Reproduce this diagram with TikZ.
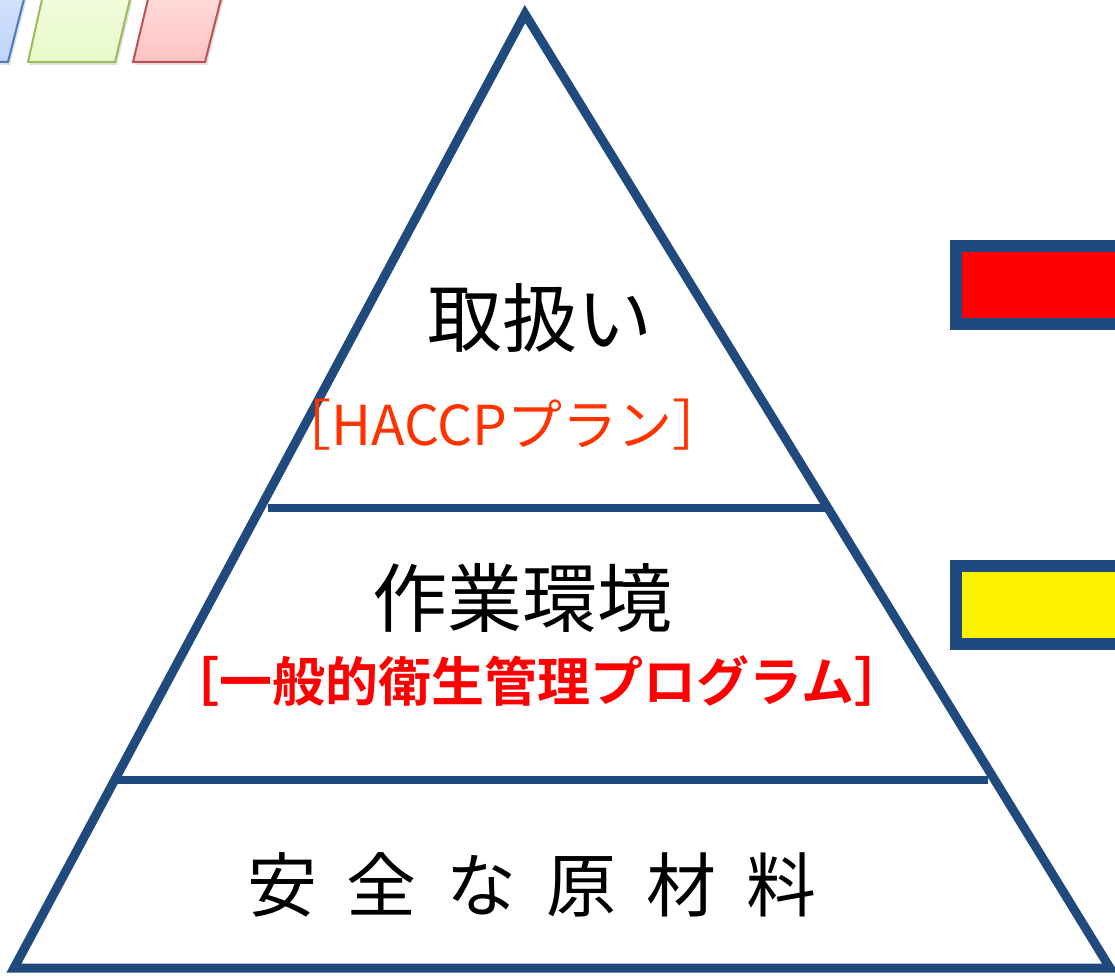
\documentclass[tikz,border=0pt]{standalone}
\usepackage{fontspec}
\setmainfont{Noto Sans CJK JP}
\newfontfamily\jpbold{Noto Sans CJK JP}[BoldFont={* Bold}]
\usetikzlibrary{shadows}
\definecolor{pyr}{RGB}{32,74,126}
\definecolor{hacol}{RGB}{255,51,0}
\definecolor{bluefill}{RGB}{190,213,250}
\definecolor{blueline}{RGB}{74,126,187}
\definecolor{greenfill}{RGB}{232,250,200}
\definecolor{greenline}{RGB}{155,187,89}
\definecolor{redfill}{RGB}{255,195,195}
\definecolor{redline}{RGB}{192,80,77}
\tikzset{
  pyrline/.style={draw=pyr, line width=9pt, line join=miter},
  tierline/.style={draw=pyr, line width=8pt},
  tag/.style={draw=pyr, line width=12pt},
  para/.style={line width=2pt, drop shadow={shadow xshift=2pt, shadow yshift=-3pt, opacity=0.25}},
  main/.style={font=\fontsize{75}{80}\selectfont, inner sep=0pt},
  sub/.style={font=\fontsize{55}{60}\selectfont, inner sep=0pt},
}
\begin{document}
\begin{tikzpicture}[x=1pt,y=-1pt]
\useasboundingbox (0,0) rectangle (1115,976);
\clip (0,0) rectangle (1115,976);
% top-left parallelograms
\fill[para, draw=blueline, top color=bluefill!70!white, bottom color=bluefill] (-60,62) -- (8,62) -- (25,-5) -- (-40,-5) -- cycle;
\fill[para, draw=greenline, top color=greenfill!60!white, bottom color=greenfill] (28,62) -- (115,62) -- (131,-5) -- (43,-5) -- cycle;
\fill[para, draw=redline, top color=redfill!60!white, bottom color=redfill] (133,62) -- (205,62) -- (222,-5) -- (149,-5) -- cycle;
% pyramid
\coordinate (apex) at (525,14);
\coordinate (bl) at (14,968);
\coordinate (br) at (1110,968);
\draw[pyrline] (apex) -- (br) -- (bl) -- cycle;
\coordinate (t1l) at (268,508);
\coordinate (t1r) at (826,508);
\coordinate (t2l) at (113,780);
\coordinate (t2r) at (988,780);
\draw[tierline] (t1l) -- (t1r);
\draw[tierline] (t2l) -- (t2r);
% right tags
\draw[tag, fill=red] (956,246) rectangle (1130,324);
\draw[tag, fill=yellow] (956,566) rectangle (1130,644);
% texts
\node[main] (top) at (540,318) {取扱い};
\node[sub, text=hacol] (haccp) at (502,425) {［HACCPプラン］};
\node[sub, text=red, font=\jpbold\bfseries\fontsize{53}{58}\selectfont] (prp) at (537,681) {［一般的衛生管理プログラム］};
\node[main] (mid) at (522,598) {作業環境};
\node[main, font=\fontsize{70}{75}\selectfont] (base) at (532,885) {安\hspace{30pt}全\hspace{30pt}な\hspace{30pt}原\hspace{30pt}材\hspace{30pt}料};
\end{tikzpicture}
\end{document}
